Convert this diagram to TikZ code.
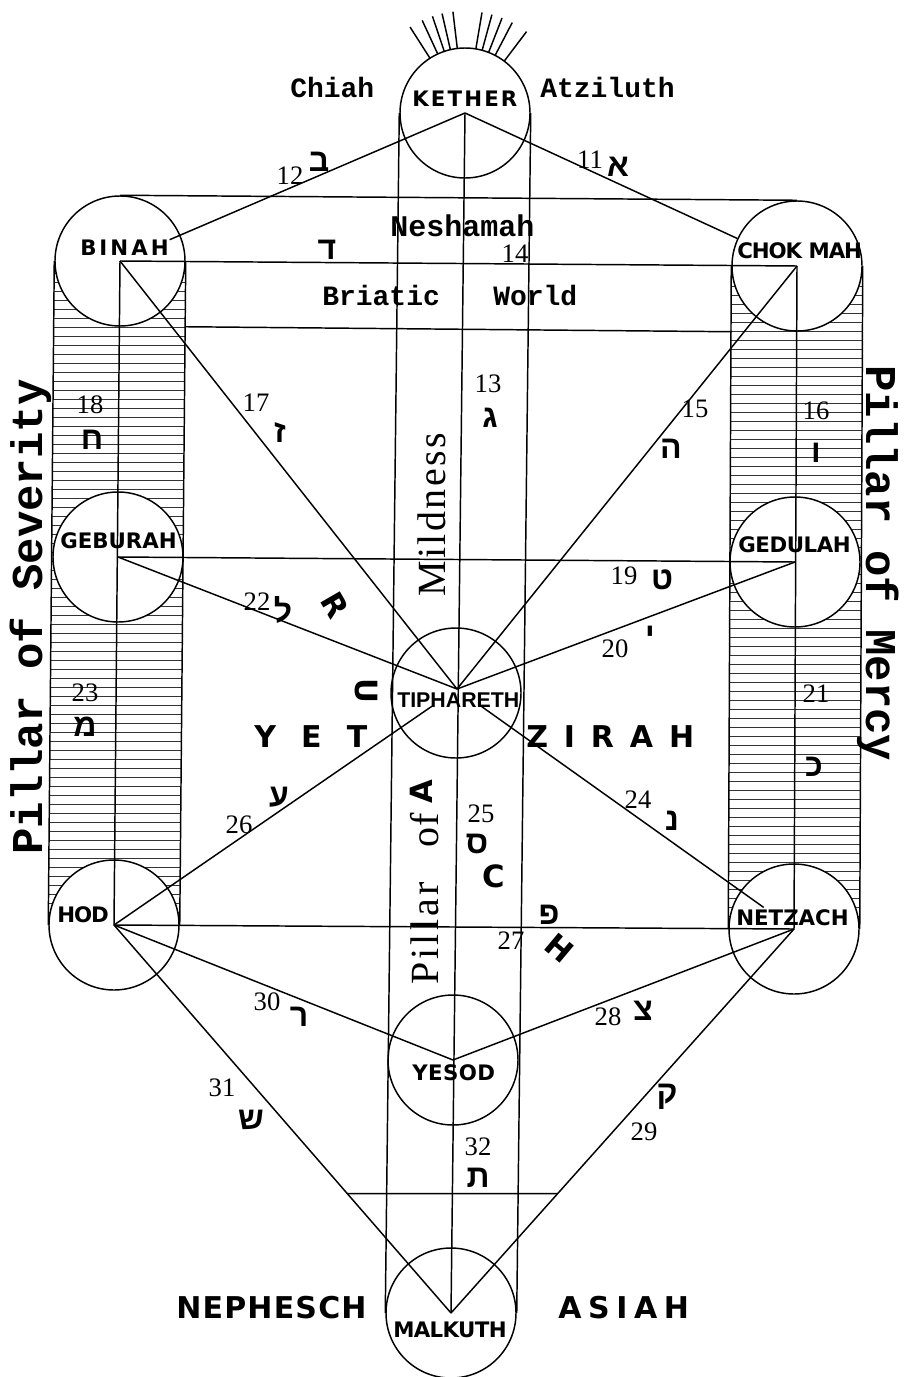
\documentclass[tikz,border=0pt]{standalone}
\usepackage{fontspec}
\setmainfont{Liberation Serif}
\newfontfamily\sephf{DejaVu Sans}
\newfontfamily\narf{Liberation Sans}
\newfontfamily\typef{Liberation Mono}
\newfontfamily\hebf[Script=Hebrew]{Liberation Sans}
\usetikzlibrary{calc}
\TeXXeTstate=1
\pgfdeclarelayer{bg}
\pgfsetlayers{bg,main}
\begin{document}
\begin{tikzpicture}[x=0.75pt,y=-0.75pt,
  sep/.style={circle,draw,line width=1.1pt,fill=white,minimum size=97.5pt,inner sep=0pt},
  ln/.style={line width=1.1pt},
  ray/.style={line width=1.1pt},
  hatch/.style={line width=0.65pt,black!80},
  seph/.style={anchor=base west,inner sep=0pt,font=\sephf\bfseries\fontsize{16}{16}\selectfont\addfontfeatures{LetterSpace=#1}},
  big/.style={anchor=base west,inner sep=0pt,font=\sephf\bfseries\fontsize{22.5}{22.5}\selectfont\addfontfeatures{LetterSpace=#1}},
  typ/.style={anchor=base west,inner sep=0pt,font=\typef\bfseries\fontsize{21}{21}\selectfont},
  num/.style={inner sep=0pt,font=\fontsize{20}{20}\selectfont},
  heb/.style={inner sep=0pt,font=\hebf\bfseries\fontsize{24}{24}\selectfont},
  sidepil/.style={anchor=base west,inner sep=0pt,font=\typef\bfseries\fontsize{33}{33}\selectfont},
  pil/.style={anchor=base west,inner sep=0pt,font=\fontsize{30}{30}\selectfont\addfontfeatures{LetterSpace=#1}},
  rua/.style={inner sep=0pt,font=\sephf\bfseries\fontsize{23}{23}\selectfont}]
\useasboundingbox (0,0) rectangle (906,1377);

% Sephiroth
\node[sep] (kether)  at (465,113) {};
\node[sep] (binah)   at (120,261) {};
\node[sep] (chokmah) at (797,266) {};
\node[sep] (geburah) at (118,557) {};
\node[sep] (gedulah) at (795,562) {};
\node[sep] (tiph)    at (456,693) {};
\node[sep] (hod)     at (114,925) {};
\node[sep] (netzach) at (794,929) {};
\node[sep] (yesod)   at (453,1060) {};
\node[sep] (malkuth) at (451,1313) {};
\coordinate (tp) at (457,689);

% background and hatching of the side pillars
\begin{pgfonlayer}{bg}
\fill[white] (0,0) rectangle (906,1377);
\begin{scope}
\clip (binah.west) -- (binah.east) -- (hod.east) -- (hod.west) -- cycle;
\foreach \y in {264,273,...,930} \draw[hatch] (0,\y) -- (320,\y);
\end{scope}
\begin{scope}
\clip (chokmah.west) -- (chokmah.east) -- (netzach.east) -- (netzach.west) -- cycle;
\foreach \y in {268,277,...,934} \draw[hatch] (600,\y) -- (906,\y);
\end{scope}
\end{pgfonlayer}

% rays of Kether
\foreach \a in {122.6,114.8,108.6,103,96.8,80.4,74.7,68.7,62.4,52.9}
  \draw[ray] ($(kether.center)+(-\a:65)$) -- ($(kether.center)+(-\a:102)$);

% pillars
\draw[ln] (binah.west) -- (hod.west);
\draw[ln] (binah.east) -- (hod.east);
\draw[ln] (binah.center) -- (hod.center);
\draw[ln] (chokmah.west) -- (netzach.west);
\draw[ln] (chokmah.east) -- (netzach.east);
\draw[ln] (chokmah.center) -- (netzach.center);
\draw[ln] (kether.west) -- (malkuth.west);
\draw[ln] (kether.center) -- (malkuth.center);
\draw[ln] (kether.east) -- (malkuth.east);
% Briatic band
\draw[ln] (binah.north) -- (chokmah.north);
\draw[ln] ($(binah.south)+(65,0)$) -- ($(chokmah.south)+(-65,0)$);

% paths
\draw[ln] (kether.center) -- ($(kether.center)!0.856!(binah.center)$);
\draw[ln] (kether.center) -- ($(kether.center)!0.82!(chokmah.center)$);
\draw[ln] (binah.center) -- (chokmah.center);
\draw[ln] (binah.center) -- (tp);
\draw[ln] (chokmah.center) -- (tp);
\draw[ln] (geburah.center) -- (gedulah.center);
\draw[ln] (geburah.center) -- (tp);
\draw[ln] (gedulah.center) -- (tp);
\draw[ln] (hod.center) -- ($(hod.center)!0.927!(tp)$);
\draw[ln] ($(tp)!0.068!(netzach.center)$) -- ($(tp)!0.91!(netzach.center)$);
\draw[ln] (hod.center) -- (netzach.center);
\draw[ln] (hod.center) -- (yesod.center);
\draw[ln] (netzach.center) -- (yesod.center);
\draw[ln] (hod.center) -- (malkuth.center);
\draw[ln] (netzach.center) -- (malkuth.center);
\draw[ln] ($(hod.center)!0.6925!(malkuth.center)$) -- ($(netzach.center)!0.689!(malkuth.center)$);

% Sephiroth names
\node[seph=10] (tK) at (412,107) {KETHER};
\node[seph=14] (tB) at (80,255) {BINAH};
\node[seph=-5] (tC) at (737,258) {CHOK MAH};
\node[seph=0]  (tG) at (60,548) {GEBURAH};
\node[seph=-2] (tGe) at (738,552) {GEDULAH};
\node[anchor=base west,inner sep=0pt,font=\narf\bfseries\fontsize{16}{16}\selectfont] (tT) at (397,707) {TIPHARETH};
\node[seph=-5] (tH) at (57,922) {HOD};
\node[seph=0]  (tN) at (736,925) {NETZACH};
\node[seph=2]  (tY) at (412,1080) {YESOD};
\node[seph=-3] (tM) at (393,1337) {MALKUTH};

% worlds and souls
\node[typ] (chiah) at (290,98) {Chiah};
\node[typ] (atz) at (540,98) {Atziluth};
\node[typ,font=\typef\bfseries\fontsize{22.5}{22.5}\selectfont] (nesh) at (390,236) {Neshamah};
\node[typ] (bri) at (322,305) {Briatic};
\node[typ] (wor) at (493,305) {World};
\node[big=84] (yet) at (254,747) {YET};
\node[big=53] (zir) at (526,747) {ZIRAH};
\node[big=4] (neph) at (176,1318) {NEPHESCH};
\node[big=22] (asi) at (558,1318) {ASIAH};

% pillars' names
\node[sidepil,rotate=90] (psev) at (42,855) {Pillar of Severity};
\node[sidepil,rotate=-90] (pmer) at (866,365) {Pillar of Mercy};
\node[pil=6,rotate=90] (mild) at (445,597) {Mildness};
\node[pil=8,rotate=90] (pmid1) at (438,985) {Pillar};
\node[pil=4,rotate=90] (pmid2) at (438,848) {of};

% RUACH
\node[rua,rotate=-60] (rR) at (335,605) {R};
\node[rua,rotate=-90] (rU) at (366,691) {U};
\node[rua,rotate=90] (rA) at (421,792) {A};
\node[rua] (rC) at (494,876) {C};
\node[rua,rotate=-40] (rH) at (560,948) {H};

% path numbers and letters
\node[num] (n11) at (590,160) {11};  \node[heb] (h11) at (618,167) {\beginR א\endR};
\node[num] (n12) at (290,176) {12};  \node[heb] (h12) at (319,162) {\beginR ב\endR};
\node[num] (n13) at (488,384) {13};  \node[heb] (h13) at (490,418) {\beginR ג\endR};
\node[num] (n14) at (515,254) {14};  \node[heb] (h14) at (327,250) {\beginR ד\endR};
\node[num] (n15) at (695,409) {15};  \node[heb] (h15) at (671,449) {\beginR ה\endR};
\node[num] (n16) at (816,411) {16};  \node[heb] (h16) at (816,453) {\beginR ו\endR};
\node[num] (n17) at (256,403) {17};  \node[heb] (h17) at (280,433) {\beginR ז\endR};
\node[num] (n18) at (90,405) {18};   \node[heb] (h18) at (92,440) {\beginR ח\endR};
\node[num] (n19) at (624,576) {19};  \node[heb] (h19) at (662,580) {\beginR ט\endR};
\node[num] (n20) at (615,649) {20};  \node[heb] (h20) at (650,636) {\beginR י\endR};
\node[num] (n21) at (816,694) {21};  \node[heb] (h21) at (814,767) {\beginR כ\endR};
\node[num] (n22) at (257,602) {22};  \node[heb] (h22) at (283,610) {\beginR ל\endR};
\node[num] (n23) at (85,693) {23};   \node[heb] (h23) at (85,727) {\beginR מ\endR};
\node[num] (n24) at (638,800) {24};  \node[heb] (h24) at (672,821) {\beginR נ\endR};
\node[num] (n25) at (481,814) {25};  \node[heb] (h25) at (477,844) {\beginR ס\endR};
\node[num] (n26) at (239,825) {26};  \node[heb] (h26) at (279,797) {\beginR ע\endR};
\node[num] (n27) at (511,941) {27};  \node[heb] (h27) at (549,915) {\beginR פ\endR};
\node[num] (n28) at (608,1017) {28}; \node[heb] (h28) at (643,1011) {\beginR צ\endR};
\node[num] (n29) at (644,1132) {29}; \node[heb] (h29) at (667,1097) {\beginR ק\endR};
\node[num] (n30) at (267,1002) {30}; \node[heb] (h30) at (299,1017) {\beginR ר\endR};
\node[num] (n31) at (222,1088) {31}; \node[heb] (h31) at (251,1120) {\beginR ש\endR};
\node[num] (n32) at (478,1147) {32}; \node[heb] (h32) at (478,1178) {\beginR ת\endR};
\end{tikzpicture}
\end{document}
